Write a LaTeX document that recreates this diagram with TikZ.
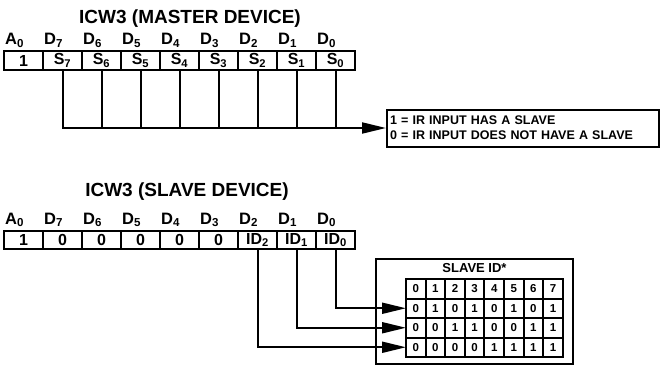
\documentclass[tikz,border=0pt]{standalone}
\usepackage{fontspec}
\setmainfont{Liberation Sans}
\usetikzlibrary{arrows.meta,positioning}
\newcommand{\sbx}[1]{\textsubscript{#1}}

\begin{document}
\begin{tikzpicture}[x=1pt, y=1pt,
  cell/.style={draw, line width=2pt, minimum width=39pt, minimum height=18pt, inner sep=0pt, outer sep=0pt, font=\fontsize{16}{17}\selectfont\bfseries},
  bit/.style={font=\fontsize{16.5}{18}\selectfont\bfseries, inner sep=0pt},
  ttl/.style={font=\fontsize{19}{21}\selectfont\bfseries, inner sep=0pt},
  tab/.style={draw, line width=2pt, minimum width=19.6pt, minimum height=19.5pt, inner sep=0pt, outer sep=0pt, font=\fontsize{11.5}{12}\selectfont\bfseries},
  wire/.style={line width=2pt},
  arr/.style={wire, -{Triangle[length=24pt, width=11pt]}}]
  \useasboundingbox (0,0) rectangle (668,365);
  % master word
  \node[ttl] (mt) at (190,346) {ICW3 (MASTER DEVICE)};
  \node[cell] (m0) at (23.5,304.5) {1};
  \foreach \t [count=\i, remember=\i as \p (initially 0)] in {S\sbx{7},S\sbx{6},S\sbx{5},S\sbx{4},S\sbx{3},S\sbx{2},S\sbx{1},S\sbx{0}}
    \node[cell, right=0pt of m\p] (m\i) {\t};
  \foreach \l [count=\i from 0] in {A\sbx{0},D\sbx{7},D\sbx{6},D\sbx{5},D\sbx{4},D\sbx{3},D\sbx{2},D\sbx{1},D\sbx{0}}
    \node[bit, above right=4pt and 1pt of m\i.north west] (ml\i) {\l};
  % meaning of the bits
  \node[draw, line width=2pt, align=left, anchor=west, minimum width=272pt, minimum height=37pt, text width=266pt, inner xsep=2pt, font=\fontsize{12.5}{15}\selectfont\bfseries] (key) at (386,237)
       {1 = IR INPUT HAS A SLAVE\\0 = IR INPUT DOES NOT HAVE A SLAVE};
  \draw[arr] (m1.south) |- (key.west);
  \foreach \i in {2,...,8}
    \draw[wire] (m\i.south) -- (m\i.south |- key.west);
  % slave word
  \node[ttl] (st) at (187,173) {ICW3 (SLAVE DEVICE)};
  \node[cell] (s0) at (23.5,125) {1};
  \foreach \t [count=\i, remember=\i as \p (initially 0)] in {0,0,0,0,0,ID\sbx{2},ID\sbx{1},ID\sbx{0}}
    \node[cell, right=0pt of s\p] (s\i) {\t};
  \foreach \l [count=\i from 0] in {A\sbx{0},D\sbx{7},D\sbx{6},D\sbx{5},D\sbx{4},D\sbx{3},D\sbx{2},D\sbx{1},D\sbx{0}}
    \node[bit, above right=4pt and 1pt of s\i.north west] (sl\i) {\l};
  % slave id table
  \node[draw, line width=2pt, minimum width=197pt, minimum height=105pt, anchor=north west] (sid) at (375,107) {};
  \node[inner sep=0pt, font=\fontsize{13}{14}\selectfont\bfseries, below=5pt of sid.north] (sidt) {SLAVE ID*};
  \foreach \row [count=\r from 0] in {{0,1,2,3,4,5,6,7},{0,1,0,1,0,1,0,1},{0,0,1,1,0,0,1,1},{0,0,0,0,1,1,1,1}}
    \foreach \v [count=\c from 0] in \row
      \node[tab] (t\r\c) at ({406+19.6*(\c+0.5)},{86-19.5*(\r+0.5)}) {\v};
  \draw[arr] (s8.south) |- (t10.west);
  \draw[arr] (s7.south) |- (t20.west);
  \draw[arr] (s6.south) |- (t30.west);
\end{tikzpicture}
\end{document}
